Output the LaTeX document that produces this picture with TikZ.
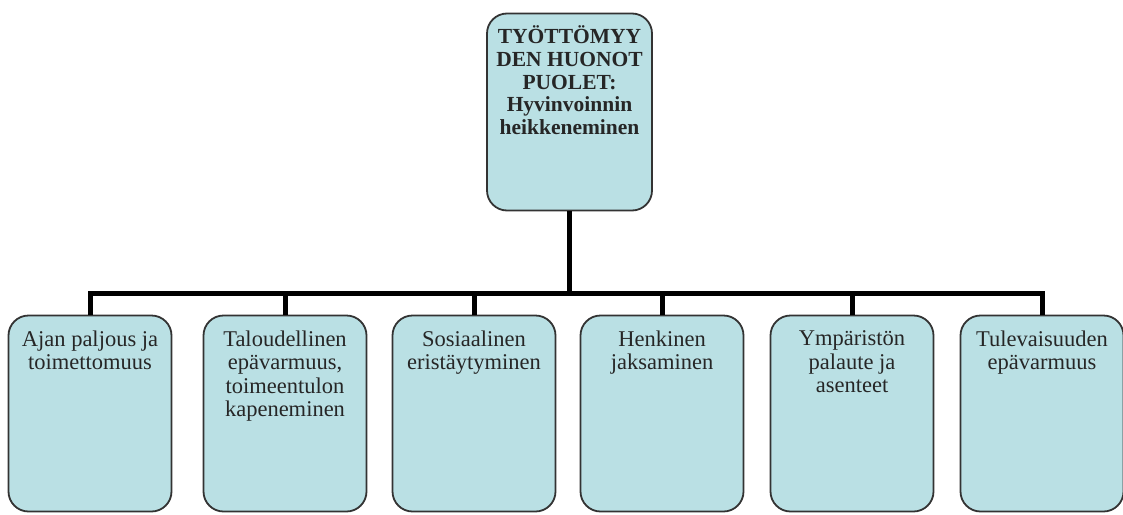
\documentclass[tikz,border=0pt]{standalone}
\usepackage{fontspec}
\setmainfont{Liberation Serif}
\begin{document}
\begin{tikzpicture}[x=1pt,y=-1pt,
  boxshape/.style={draw=black!80,line width=1.8pt,fill=boxfill,rounded corners=20pt,
    minimum width=163pt,minimum height=196pt,inner sep=0pt},
  topshape/.style={boxshape,minimum width=165pt,minimum height=197pt},
  boxtext/.style={anchor=north,align=center,font=\fontsize{22.5}{23.5}\selectfont,
    text=black!85,inner sep=0pt},
  toptext/.style={anchor=north,align=center,font=\bfseries\fontsize{21.5}{22.7}\selectfont,
    text=black!85,inner sep=0pt},
  conn/.style={line width=5pt,draw=black}]
\definecolor{boxfill}{RGB}{186,224,228}
\useasboundingbox (0,0) rectangle (1123,514);
\node[topshape] (top) at (569.5,112) {};
\node[toptext] (toptxt) at ([yshift=-13pt]top.north) {TYÖTTÖMYY\\DEN HUONOT\\PUOLET:\\Hyvinvoinnin\\heikkeneminen};
\foreach \i/\x/\t in {1/90/{Ajan paljous ja\\toimettomuus},
  2/285/{Taloudellinen\\epävarmuus,\\toimeentulon\\kapeneminen},
  3/474/{Sosiaalinen\\eristäytyminen},
  4/662/{Henkinen\\jaksaminen},
  5/852/{Ympäristön\\palaute ja\\asenteet},
  6/1042/{Tulevaisuuden\\epävarmuus}}{
  \node[boxshape] (b\i) at (\x,413.5) {};
  \node[boxtext] (t\i) at ([yshift=-16pt]b\i.north) {\t};
}
\coordinate (j) at (top.south |- 0,293);
\coordinate (jl) at (b1.north |- 0,293);
\coordinate (jr) at (b6.north |- 0,293);
\draw[conn] (top.south) -- (j);
\draw[conn,line cap=rect] (jl) -- (jr);
\foreach \i in {1,...,6}{
  \draw[conn] (b\i.north |- j) -- (b\i.north);
}
\end{tikzpicture}
\end{document}
